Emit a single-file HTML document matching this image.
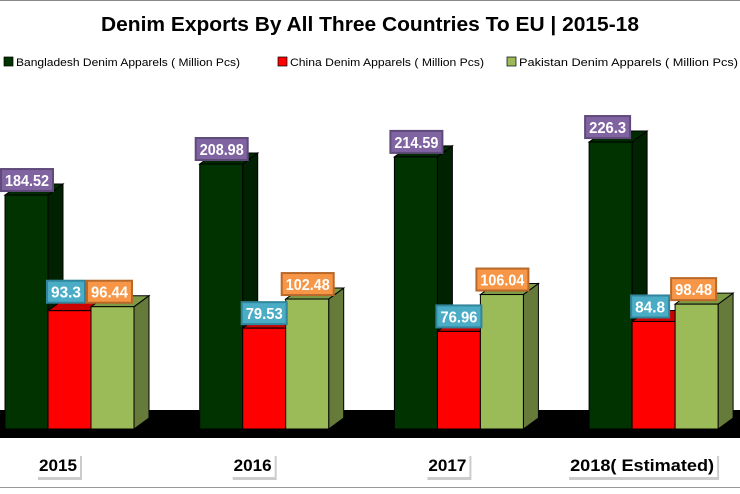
<!DOCTYPE html>
<html><head><style>
html,body{margin:0;padding:0;background:#fff;}
svg text{font-family:"Liberation Sans",sans-serif;}
</style></head><body>
<svg width="740" height="489" viewBox="0 0 740 489" xmlns="http://www.w3.org/2000/svg">
<rect x="0" y="0" width="740" height="489" fill="#fff"/>
<line x1="0" y1="0.5" x2="740" y2="0.5" stroke="#888" stroke-width="1"/>
<line x1="0" y1="487.5" x2="740" y2="487.5" stroke="#999" stroke-width="1"/>
<text x="370" y="31" text-anchor="middle" font-size="20" font-weight="bold" fill="#000" textLength="538" lengthAdjust="spacingAndGlyphs">Denim Exports By All Three Countries  To EU | 2015-18</text>
<g font-size="11" fill="#000">
<rect x="4" y="57" width="9" height="9" fill="#003300" stroke="#000" stroke-width="0.7"/>
<text x="16" y="66" textLength="224" lengthAdjust="spacingAndGlyphs">Bangladesh  Denim Apparels ( Million Pcs)</text>
<rect x="278" y="57" width="9" height="9" fill="#ff0000" stroke="#000" stroke-width="0.7"/>
<text x="290" y="66" textLength="194" lengthAdjust="spacingAndGlyphs">China  Denim Apparels ( Million Pcs)</text>
<rect x="507" y="57" width="9" height="9" fill="#9bbb59" stroke="#000" stroke-width="0.7"/>
<text x="519" y="66" textLength="219" lengthAdjust="spacingAndGlyphs">Pakistan  Denim Apparels ( Million Pcs)</text>
</g>
<rect x="0" y="410" width="740" height="28" fill="#000"/>
<g id="bars" stroke="#000" stroke-width="1"></g>
<g id="labels"></g>
</svg>
<script>
var data=[[184.52,93.3,96.44],[208.98,79.53,102.48],[214.59,76.96,106.04],[226.3,84.8,98.48]];
var cats=["2015","2016","2017","2018( Estimated)"];
var catw=[44,44,44,150];
var front=["#003300","#ff0000","#9bbb59"],side=["#002200","#b00000","#667a3a"],top_=["#002a00","#cc0000","#7d9a45"];
var lbl=[["#8064a2","#5f4a7a"],["#4bacc6","#31859c"],["#f79646","#b8692a"]];
var ns="http://www.w3.org/2000/svg",B=document.getElementById("bars"),L=document.getElementById("labels");
function el(t,a,p){var e=document.createElementNS(ns,t);for(var k in a)e.setAttribute(k,a[k]);p.appendChild(e);return e;}
var base=429,sc=1.268,w=43,dx=15,dy=11;
data.forEach(function(d,g){
 var x0=5+g*194.7;
 for(var i=0;i<3;i++){
  var x=x0+i*w,h=d[i]*sc,y=base-h;
  el("polygon",{points:(x+w)+","+y+" "+(x+w+dx)+","+(y-dy)+" "+(x+w+dx)+","+(base-dy)+" "+(x+w)+","+base,fill:side[i]},B);
  el("polygon",{points:x+","+y+" "+(x+dx)+","+(y-dy)+" "+(x+w+dx)+","+(y-dy)+" "+(x+w)+","+y,fill:top_[i]},B);
  el("rect",{x:x,y:y,width:w,height:h,fill:front[i]},B);
 }
 for(var i=0;i<3;i++){
  var x=x0+i*w,h=d[i]*sc,y=base-h;
  var s=String(d[i]);var bw=s.length*7+10;
  var bx=i==0?x-4:(i==1?x-1:x-4), by=y-26;
  if(i==1&&g==0){by=y-30;}
  el("rect",{x:bx,y:by,width:bw,height:22,fill:lbl[i][0],stroke:lbl[i][1],"stroke-width":2},L);
  var t=el("text",{x:bx+bw/2,y:by+17,"text-anchor":"middle","font-size":16,"font-weight":"bold",fill:"#fff",textLength:bw-8,lengthAdjust:"spacingAndGlyphs"},L);t.textContent=s;
 }
 var cx=x0+53;
 var c=cats[g],cw=catw[g];
 el("rect",{x:cx-cw/2+2,y:453+3,width:cw,height:24,fill:"#ccc"},L);
 el("rect",{x:cx-cw/2,y:453,width:cw,height:24,fill:"#fff"},L);
 var t=el("text",{x:cx,y:471,"text-anchor":"middle","font-size":17,"font-weight":"bold",fill:"#000",textLength:cw-6,lengthAdjust:"spacingAndGlyphs"},L);t.textContent=c;
});
</script>
</body></html>
